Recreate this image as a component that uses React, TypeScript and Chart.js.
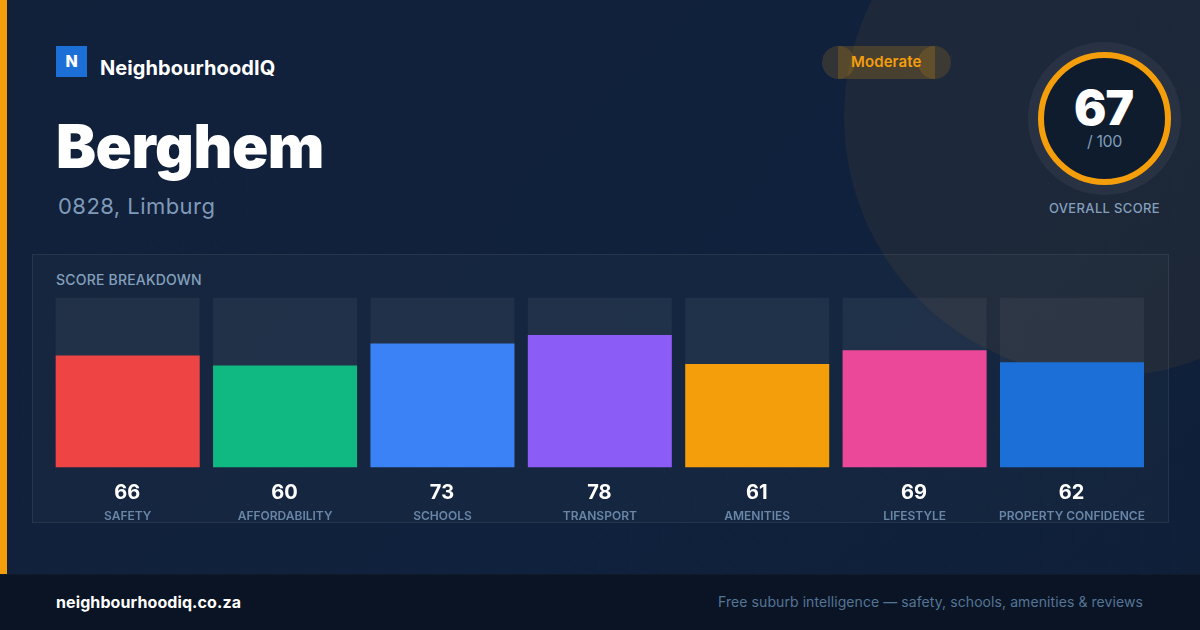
import React, { useEffect, useRef } from "react";
import { Chart, registerables } from "chart.js";

Chart.register(...registerables);

const categories = ["SAFETY", "AFFORDABILITY", "SCHOOLS", "TRANSPORT", "AMENITIES", "LIFESTYLE", "PROPERTY CONFIDENCE"];
const scores = [66, 60, 73, 78, 61, 69, 62];
const trackValues = [100, 100, 100, 100, 100, 100, 100];
const barColors = ["#ef4444", "#10b981", "#3b82f6", "#8b5cf6", "#f59e0b", "#ec4899", "#1d6fd8"];

const FONT = "Inter, sans-serif";

const valueLabels = {
  id: "valueLabels",
  afterDraw(chart: any) {
    const { ctx, scales } = chart;
    ctx.save();
    ctx.font = `700 20px ${FONT}`;
    ctx.fillStyle = "#ffffff";
    ctx.textAlign = "center";
    ctx.textBaseline = "middle";
    scores.forEach((v, i) => {
      ctx.fillText(String(v), scales.x.getPixelForValue(i) - 0.5, scales.y.getPixelForValue(0) + 25.5);
    });
    ctx.restore();
  },
};

const abs = (s: React.CSSProperties): React.CSSProperties => ({ position: "absolute", whiteSpace: "nowrap", ...s });

export default function App() {
  const ref = useRef<HTMLCanvasElement>(null);
  useEffect(() => {
    document.body.style.margin = "0";
    const chart = new Chart(ref.current!, {
      type: "bar",
      data: {
        labels: categories,
        datasets: [
          { data: scores, backgroundColor: barColors, grouped: false, order: 0, barPercentage: 0.915, categoryPercentage: 1, borderWidth: 0 },
          { data: trackValues, backgroundColor: "rgba(255,255,255,0.05)", grouped: false, order: 1, barPercentage: 0.915, categoryPercentage: 1, borderWidth: 0 },
        ],
      },
      options: {
        animation: false,
        responsive: false,
        maintainAspectRatio: false,
        layout: { padding: { left: 49, right: 49.33, top: 297.6, bottom: 72 } },
        plugins: { legend: { display: false }, tooltip: { enabled: false } },
        scales: {
          x: {
            grid: { display: false },
            border: { display: false },
            ticks: { color: "#6986a6", font: { family: FONT, size: 12, weight: "600" }, padding: 34, maxRotation: 0, minRotation: 0, autoSkip: false },
          },
          y: { min: 0, max: 100, display: false },
        },
      },
      plugins: [valueLabels],
    });
    return () => chart.destroy();
  }, []);

  return (
    <div style={{ position: "relative", width: 1200, height: 630, overflow: "hidden", background: "linear-gradient(135deg, #12213a 0%, #10213d 60%, #0f1f38 100%)", fontFamily: FONT }}>
      <div style={abs({ inset: 0, backgroundImage: "radial-gradient(circle, rgba(255,255,255,0.03) 1px, transparent 1px)", backgroundSize: "32px 32px", backgroundPosition: "8px 8px" })} />
      <div style={abs({ left: 844, top: -143, width: 520, height: 520, borderRadius: "50%", background: "rgba(245,158,11,0.06)" })} />
      <div style={abs({ left: 0, top: 0, width: 7, height: 630, background: "#f59e0b" })} />
      <div style={abs({ left: 56, top: 46, width: 31, height: 31, background: "#1d6fd8", color: "#fff", fontSize: 16, fontWeight: 800, textAlign: "center", lineHeight: "30px" })}>N</div>
      <div style={abs({ left: 100, top: 56, fontSize: 20, fontWeight: 700, color: "#fff", lineHeight: "24px", letterSpacing: 0.07 })}>NeighbourhoodIQ</div>
      <div style={abs({ left: 56, top: 110, fontSize: 60, fontWeight: 900, color: "#fff", lineHeight: "72px", letterSpacing: -0.5 })}>Berghem</div>
      <div style={abs({ left: 58, top: 192, fontSize: 22, color: "#7f9ab8", lineHeight: "28px", letterSpacing: 0.45 })}>0828, Limburg</div>

      <div style={abs({ left: 822, top: 46, width: 33, height: 33, borderRadius: "50%", background: "rgba(245,158,11,0.15)" })} />
      <div style={abs({ left: 918, top: 46, width: 33, height: 33, borderRadius: "50%", background: "rgba(245,158,11,0.15)" })} />
      <div style={abs({ left: 838, top: 46, width: 97, height: 33, background: "rgba(245,158,11,0.2)" })} />
      <div style={abs({ left: 851, top: 51, fontSize: 15, fontWeight: 600, color: "#f59e0b", lineHeight: "22px", letterSpacing: 0.1 })}>Moderate</div>

      <div style={abs({ left: 1028, top: 42, width: 153, height: 153, borderRadius: "50%", background: "rgba(255,255,255,0.05)" })} />
      <div style={abs({ left: 1038, top: 52, width: 121, height: 121, borderRadius: "50%", border: "6px solid #f59e0b", background: "#0f1c2e" })} />
      <div style={abs({ left: 1037, width: 133, top: 80, textAlign: "center", fontSize: 48, fontWeight: 900, color: "#fff", lineHeight: "56px", letterSpacing: -1 })}>67</div>
      <div style={abs({ left: 1038, width: 133, top: 131, textAlign: "center", fontSize: 16, color: "#7f9ab8", lineHeight: "20px", letterSpacing: -0.4 })}>/ 100</div>
      <div style={abs({ left: 1004.5, width: 200, top: 199, textAlign: "center", fontSize: 13, fontWeight: 500, color: "#84a0bd", lineHeight: "18px", letterSpacing: 0.35 })}>OVERALL SCORE</div>

      <div style={abs({ left: 32, top: 254, width: 1135, height: 267, background: "rgba(255,255,255,0.025)", border: "1px solid rgba(255,255,255,0.07)" })} />
      <div style={abs({ left: 56, top: 271, fontSize: 14, fontWeight: 500, color: "#84a0bd", lineHeight: "18px", letterSpacing: 0.2 })}>SCORE BREAKDOWN</div>

      <canvas ref={ref} width={1200} height={630} style={{ position: "absolute", left: 0, top: 0, width: 1200, height: 630 }} />

      <div style={abs({ left: 0, top: 574, width: 1200, height: 56, background: "#0a1424", borderTop: "1px solid rgba(255,255,255,0.03)", boxSizing: "border-box" })} />
      <div style={abs({ left: 56, top: 592, fontSize: 16, fontWeight: 700, color: "#fff", lineHeight: "20px", letterSpacing: 0.1 })}>neighbourhoodiq.co.za</div>
      <div style={abs({ right: 57, top: 592, fontSize: 14, color: "#557596", lineHeight: "20px", letterSpacing: 0.08 })}>Free suburb intelligence — safety, schools, amenities &amp; reviews</div>
    </div>
  );
}
